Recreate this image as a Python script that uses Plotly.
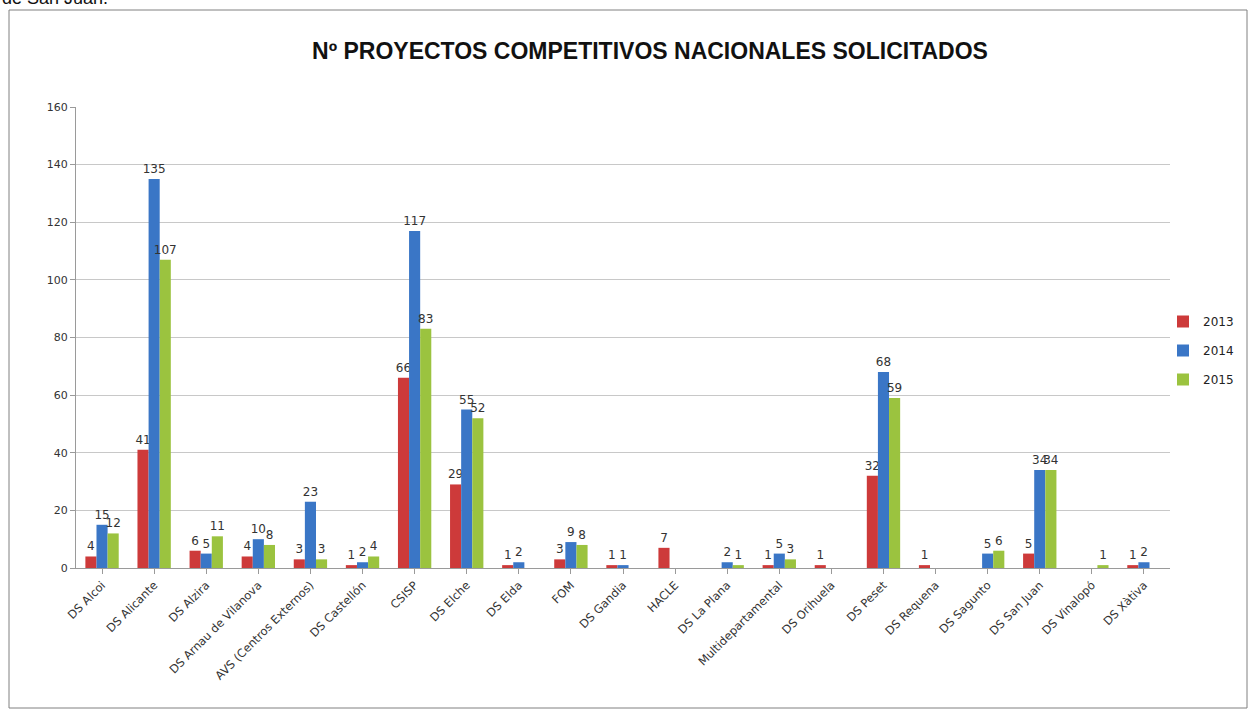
import plotly.graph_objects as go

categories = ["DS Alcoi", "DS Alicante", "DS Alzira", "DS Arnau de Vilanova",
              "AVS (Centros Externos)", "DS Castellón", "CSISP", "DS Elche", "DS Elda",
              "FOM", "DS Gandia", "HACLE", "DS La Plana", "Multidepartamental",
              "DS Orihuela", "DS Peset", "DS Requena", "DS Sagunto", "DS San Juan",
              "DS Vinalopó", "DS Xàtiva"]
v2013 = [4, 41, 6, 4, 3, 1, 66, 29, 1, 3, 1, 7, None, 1, 1, 32, 1, None, 5, None, 1]
v2014 = [15, 135, 5, 10, 23, 2, 117, 55, 2, 9, 1, None, 2, 5, None, 68, None, 5, 34, None, 2]
v2015 = [12, 107, 11, 8, 3, 4, 83, 52, None, 8, None, None, 1, 3, None, 59, None, 6, 34, 1, None]
series_names = ["2013", "2014", "2015"]
colors = ["#CD3A3A", "#3A76C6", "#9BC33F"]

fig = go.Figure()
for name, vals, col in zip(series_names, [v2013, v2014, v2015], colors):
    fig.add_trace(go.Bar(
        x=categories, y=vals, name=name, legendgroup=name,
        marker=dict(color=col, line=dict(width=0)),
        text=[("" if v is None else str(v)) for v in vals], textposition="outside",
        constraintext="none",
        textfont=dict(family="DejaVu Sans", size=12, color="#333"), cliponaxis=False,
    ))

L, R, T, B = 76, 80, 107, 143
W, H = 1250, 711
pw, ph = W - L - R, H - T - B

def px(x):
    return (x - L) / pw

def py(y):
    return (H - B - y) / ph

fig.update_layout(
    width=W, height=H, autosize=False,
    margin=dict(l=L, r=R, t=T, b=B, autoexpand=False),
    paper_bgcolor="white", plot_bgcolor="white",
    barmode="group", bargap=0.36, bargroupgap=0,
    title=dict(text="<b>Nº PROYECTOS COMPETITIVOS NACIONALES SOLICITADOS</b>",
               x=650 / W, xanchor="center", y=1 - 51 / H, yanchor="middle",
               font=dict(family="Liberation Sans", size=23, color="#111")),
    legend=dict(xref="container", yref="container", x=1163 / W, xanchor="left",
                y=1 - 307 / H, yanchor="top",
                font=dict(family="DejaVu Sans", size=12, color="#222"),
                itemwidth=30, tracegroupgap=10, bgcolor="rgba(0,0,0,0)"),
    xaxis=dict(tickangle=-45, tickfont=dict(family="DejaVu Sans", size=11.5, color="#333"),
               showline=True, linecolor="#9a9a9a", linewidth=1, ticks="outside",
               tickcolor="#9a9a9a", ticklen=5, showgrid=False, automargin=False),
    yaxis=dict(range=[0, 160], dtick=20, tickfont=dict(family="DejaVu Sans", size=11, color="#333"),
               showline=True, linecolor="#9a9a9a", linewidth=1, ticks="outside",
               tickcolor="#9a9a9a", ticklen=5, showgrid=True, gridcolor="#c8c8c8",
               gridwidth=1, zeroline=False, automargin=False),
    shapes=[dict(type="rect", xref="paper", yref="paper",
                 x0=px(9), x1=px(1247), y0=py(708), y1=py(10),
                 line=dict(color="#808080", width=1), fillcolor="rgba(0,0,0,0)", layer="below")],
    annotations=[dict(text="de San Juan.", xref="paper", yref="paper", x=px(0), y=py(10),
                      xanchor="left", yanchor="bottom", showarrow=False,
                      font=dict(family="Liberation Sans", size=18, color="#111"))],
)

fig.write_html("out.html", config={"displayModeBar": False},
               post_script="document.body.style.margin='0';")
